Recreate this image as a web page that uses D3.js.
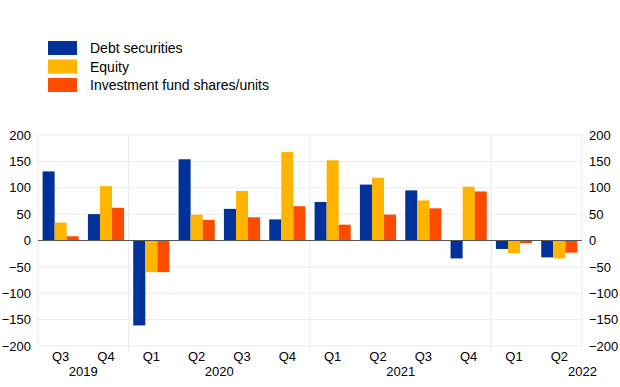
<!DOCTYPE html>
<html lang="en">
  <head>
    <meta charset="UTF-8" />
    <title>Bar chart</title>
    <style>
      * {
        margin: 0;
        padding: 0;
      }
      body {
        background: #fff;
      }
      text {
        font-family: 'Liberation Sans', Arial, sans-serif;
      }
    </style>
  </head>
  <body>
    <script src="https://cdn.jsdelivr.net/npm/d3@7"></script>
    <script>
      // data
      const quarters = ['Q3', 'Q4', 'Q1', 'Q2', 'Q3', 'Q4', 'Q1', 'Q2', 'Q3', 'Q4', 'Q1', 'Q2']
      const years = ['2019', '2019', '2020', '2020', '2020', '2020', '2021', '2021', '2021', '2021', '2022', '2022']
      const seriesNames = ['Debt securities', 'Equity', 'Investment fund shares/units']
      const debt = [131, 50, -161, 154, 60, 40, 73, 106, 95, -34, -16, -32]
      const equity = [34, 103, -60, 49, 94, 168, 152, 119, 76, 102, -24, -34]
      const funds = [8, 62, -60, 39, 44, 65, 30, 49, 61, 93, -5, -23]
      const yTicks = [-200, -150, -100, -50, 0, 50, 100, 150, 200]
      const colors = ['#003299', '#FFB400', '#FF4B00']

      const width = 620
      const height = 387
      const margin = { left: 38, right: 38, top: 135, bottom: 41 }

      const svg = d3
        .select('body')
        .append('svg')
        .attr('width', width)
        .attr('height', height)

      const idx = d3.range(quarters.length)
      const x = d3
        .scaleBand()
        .domain(idx)
        .range([margin.left, width - margin.right])
      const xs = d3
        .scaleBand()
        .domain(d3.range(seriesNames.length))
        .range([0, x.bandwidth()])
        .paddingOuter(0.38)
      const y = d3
        .scaleLinear()
        .domain([-200, 200])
        .range([height - margin.bottom, margin.top])

      // grid
      svg
        .append('g')
        .selectAll('line')
        .data(yTicks)
        .join('line')
        .attr('x1', margin.left)
        .attr('x2', width - margin.right)
        .attr('y1', (d) => y(d))
        .attr('y2', (d) => y(d))
        .attr('stroke', '#ebebeb')
        .attr('stroke-width', 1)

      // left/right frame
      svg
        .append('g')
        .selectAll('line')
        .data([margin.left, width - margin.right])
        .join('line')
        .attr('x1', (d) => d)
        .attr('x2', (d) => d)
        .attr('y1', margin.top)
        .attr('y2', height - margin.bottom)
        .attr('stroke', '#ebebeb')

      // vertical separators between years
      const breaks = idx.filter((i) => i > 0 && years[i] !== years[i - 1])
      svg
        .append('g')
        .selectAll('line')
        .data(breaks)
        .join('line')
        .attr('x1', (i) => x(i))
        .attr('x2', (i) => x(i))
        .attr('y1', margin.top)
        .attr('y2', height - margin.bottom + 6)
        .attr('stroke', '#ebebeb')

      // axes (tick labels only)
      const yLeft = svg
        .append('g')
        .attr('transform', `translate(${margin.left},0)`)
        .call(d3.axisLeft(y).tickValues(yTicks).tickSize(0).tickPadding(7))
      const yRight = svg
        .append('g')
        .attr('transform', `translate(${width - margin.right},0)`)
        .call(d3.axisRight(y).tickValues(yTicks).tickSize(0).tickPadding(7))
      ;[yLeft, yRight].forEach((g) => {
        g.select('.domain').remove()
        g.selectAll('text').attr('font-size', 13).attr('fill', '#000')
      })

      // bars
      const table = idx.map((i) => [debt[i], equity[i], funds[i]])
      const groups = svg
        .append('g')
        .selectAll('g')
        .data(table)
        .join('g')
        .attr('transform', (d, i) => `translate(${x(i)},0)`)
      groups
        .selectAll('rect')
        .data((d) => d)
        .join('rect')
        .attr('x', (d, j) => xs(j))
        .attr('width', xs.bandwidth())
        .attr('y', (d) => y(Math.max(0, d)))
        .attr('height', (d) => Math.abs(y(d) - y(0)))
        .attr('fill', (d, j) => colors[j])

      // zero line
      svg
        .append('line')
        .attr('x1', margin.left)
        .attr('x2', width - margin.right)
        .attr('y1', y(0))
        .attr('y2', y(0))
        .attr('stroke', '#555')
        .attr('stroke-width', 1)

      // quarter labels
      svg
        .append('g')
        .selectAll('text')
        .data(idx)
        .join('text')
        .attr('x', (i) => x(i) + x.bandwidth() / 2)
        .attr('y', height - margin.bottom + 15)
        .attr('text-anchor', 'middle')
        .attr('font-size', 13)
        .text((i) => quarters[i])

      // year labels
      const yearGroups = d3.groups(idx, (i) => years[i])
      svg
        .append('g')
        .selectAll('text')
        .data(yearGroups)
        .join('text')
        .attr('x', (d, k) => {
          const first = d[1][0]
          const last = d[1][d[1].length - 1]
          if (k === yearGroups.length - 1) return width - margin.right + 15
          return (x(first) + x(last) + x.bandwidth()) / 2
        })
        .attr('y', height - margin.bottom + 30)
        .attr('text-anchor', (d, k) => (k === yearGroups.length - 1 ? 'end' : 'middle'))
        .attr('font-size', 13)
        .text((d) => d[0])

      // legend
      const legend = svg
        .append('g')
        .selectAll('g')
        .data(seriesNames)
        .join('g')
        .attr('transform', (d, i) => `translate(48,${41 + i * 18.5})`)
      legend
        .append('rect')
        .attr('width', 29)
        .attr('height', 14)
        .attr('fill', (d, i) => colors[i])
      legend
        .append('text')
        .attr('x', 42)
        .attr('y', 12)
        .attr('font-size', 14)
        .text((d) => d)
    </script>
  </body>
</html>
